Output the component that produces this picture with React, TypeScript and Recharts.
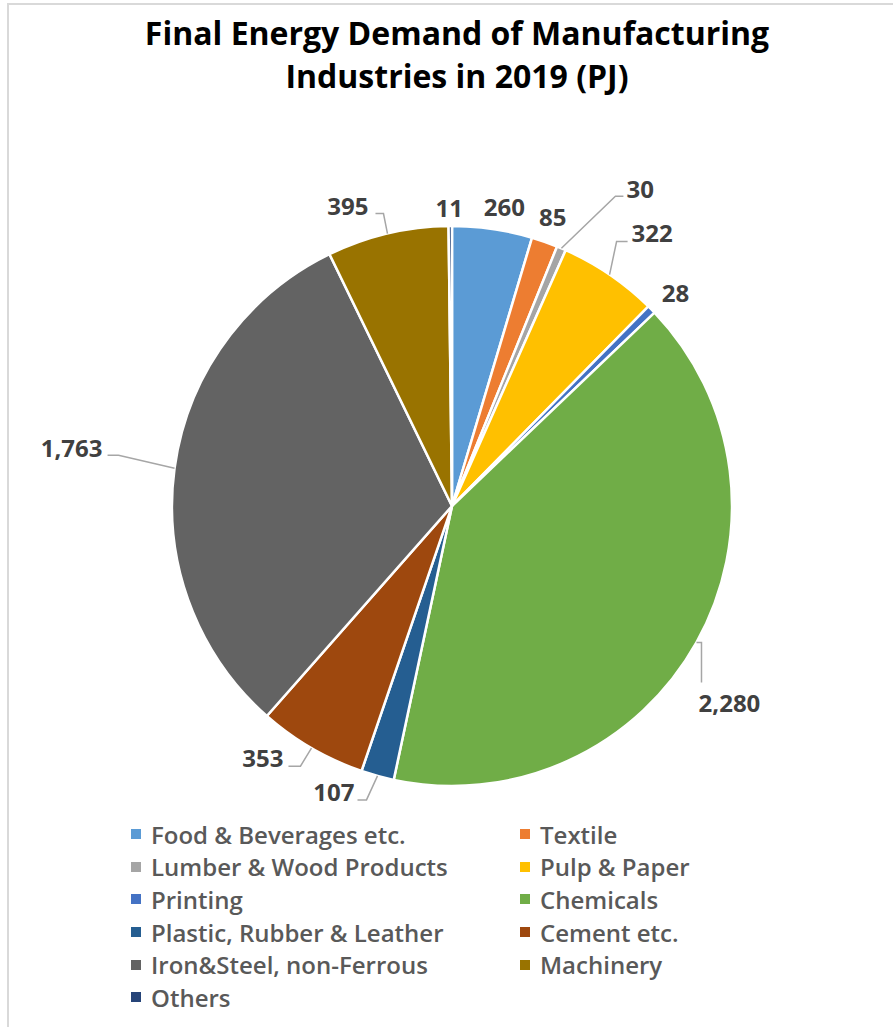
import React from "react";
import { PieChart, Pie, Cell, Legend } from "recharts";

const categories = [
  "Food & Beverages etc.",
  "Textile",
  "Lumber & Wood Products",
  "Pulp & Paper",
  "Printing",
  "Chemicals",
  "Plastic, Rubber & Leather",
  "Cement etc.",
  "Iron&Steel, non-Ferrous",
  "Machinery",
  "Others",
];
const demandPJ = [260, 85, 30, 322, 28, 2280, 107, 353, 1763, 395, 11];
const colors = [
  "#5B9BD5",
  "#ED7D31",
  "#A5A5A5",
  "#FFC000",
  "#4472C4",
  "#70AD47",
  "#255E91",
  "#9E480E",
  "#636363",
  "#997300",
  "#264478",
];
const titleLines = ["Final Energy Demand of Manufacturing", "Industries in 2019 (PJ)"];

const data = categories.map((name, i) => ({ name, value: demandPJ[i] }));

// label placement relative to the slice's outer edge point (layout only)
type LabelLayout = {
  tx: number;
  ty: number;
  anchor: "start" | "middle" | "end";
  leader?: number[][];
};
const labelLayout: LabelLayout[] = [
  { tx: 12, ty: -22, anchor: "middle" },
  { tx: 8, ty: -25, anchor: "middle" },
  { tx: 65, ty: -60, anchor: "start", leader: [[54, -52], [62, -52]] },
  { tx: 22, ty: -42, anchor: "start", leader: [[7, -33], [18, -33]] },
  { tx: 24, ty: -17, anchor: "middle" },
  { tx: 33, ty: 60, anchor: "middle", leader: [[5, 0], [5, 40]] },
  { tx: -23, ty: 16, anchor: "end", leader: [[-11, 24], [-20, 24]] },
  { tx: -28, ty: 9, anchor: "end", leader: [[-11, 18], [-23, 18]] },
  { tx: -72, ty: -21, anchor: "end", leader: [[-56, -13], [-67, -13]] },
  { tx: -19, ty: -28, anchor: "end", leader: [[-4, -20], [-12, -20]] },
  { tx: -1, ty: -19, anchor: "middle" },
];

const RAD = Math.PI / 180;

const renderLabel = (props: any) => {
  const { cx, cy, midAngle, outerRadius, index, value } = props;
  const ex = cx + outerRadius * Math.cos(-midAngle * RAD);
  const ey = cy + outerRadius * Math.sin(-midAngle * RAD);
  const lay = labelLayout[index];
  const pts = lay.leader
    ? [[ex, ey], ...lay.leader.map(([dx, dy]) => [ex + dx, ey + dy])]
    : null;
  return (
    <g key={`lbl-${index}`}>
      {pts && (
        <polyline
          points={pts.map((p) => p.join(",")).join(" ")}
          fill="none"
          stroke="#A6A6A6"
          strokeWidth={1.5}
        />
      )}
      <text
        x={ex + lay.tx}
        y={ey + lay.ty}
        textAnchor={lay.anchor}
        dominantBaseline="central"
        fill="#404040"
        fontFamily="'Open Sans', sans-serif"
        fontWeight={700}
        fontSize={24}
      >
        {Number(value).toLocaleString("en-US")}
      </text>
    </g>
  );
};

const renderLegend = () => {
  return (
    <div
      style={{
        display: "grid",
        gridTemplateColumns: "389px 260px",
        fontFamily: "'Open Sans', sans-serif",
        fontSize: 24,
        fontWeight: 600,
        color: "#595959",
      }}
    >
      {categories.map((name, i) => (
        <div
          key={name}
          style={{ display: "flex", alignItems: "center", height: 32.6, whiteSpace: "nowrap" }}
        >
          <span
            style={{
              display: "inline-block",
              width: 10,
              height: 10,
              background: colors[i],
              marginRight: 10,
              flex: "none",
            }}
          />
          <span>{name}</span>
        </div>
      ))}
    </div>
  );
};

export default function App() {
  return (
    <div style={{ position: "absolute", left: 0, top: 0, width: 893, height: 1027, background: "#fff", overflow: "hidden" }}>
      <div
        style={{
          position: "absolute",
          left: 7,
          top: 3,
          width: 886,
          height: 1024,
          boxSizing: "border-box",
          borderLeft: "2px solid #D9D9D9",
          borderTop: "2px solid #D9D9D9",
        }}
      />
      <div
        style={{
          position: "absolute",
          left: 0,
          top: 11,
          width: 914,
          textAlign: "center",
          fontFamily: "'Open Sans', sans-serif",
          fontWeight: 700,
          fontSize: 32,
          lineHeight: "43px",
          color: "#000",
        }}
      >
        {titleLines.map((t, i) => (
          <div key={i}>{t}</div>
        ))}
      </div>
      <div style={{ position: "absolute", left: 0, top: 0 }}>
        <PieChart width={893} height={1027} margin={{ top: 0, right: 0, bottom: 0, left: 0 }}>
          <Pie
            data={data}
            dataKey="value"
            nameKey="name"
            cx={452}
            cy={506}
            outerRadius={280}
            startAngle={90}
            endAngle={-270}
            stroke="#FFFFFF"
            strokeWidth={2.5}
            label={renderLabel}
            labelLine={false}
            isAnimationActive={false}
          >
            {data.map((d, i) => (
              <Cell key={d.name} fill={colors[i]} />
            ))}
          </Pie>
          <Legend
            content={renderLegend}
            wrapperStyle={{ position: "absolute", left: 131, top: 818, width: 660, bottom: "auto" }}
          />
        </PieChart>
      </div>
    </div>
  );
}
